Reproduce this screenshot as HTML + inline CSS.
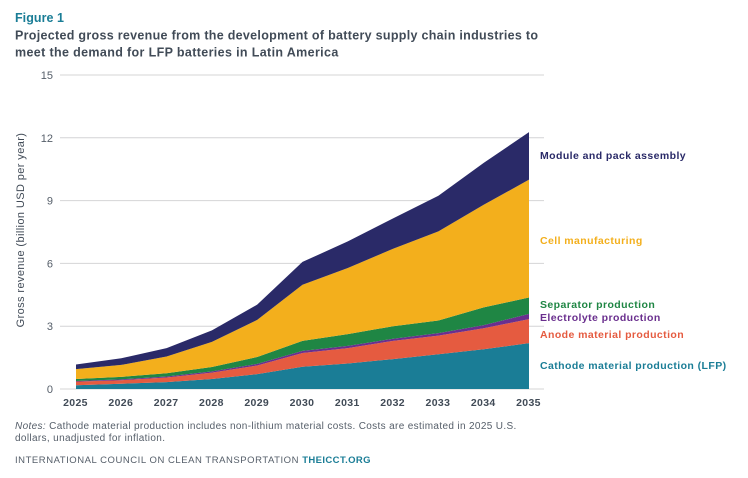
<!DOCTYPE html>
<html lang="en">
<head>
<meta charset="utf-8">
<title>Figure 1</title>
<style>
html,body{margin:0;padding:0;background:#fff;}
body{width:748px;height:478px;overflow:hidden;position:relative;font-family:"Liberation Sans",sans-serif;}
svg{position:absolute;left:0;top:0;}
text{font-family:"Liberation Sans",sans-serif;}
</style>
</head>
<body>
<svg id="chart" width="748" height="478" viewBox="0 0 748 478">
  <text x="15" y="22" font-size="12.5" font-weight="700" fill="#1a7d96" letter-spacing="0.05">Figure 1</text>
  <text x="15" y="39.5" font-size="12.5" font-weight="700" fill="#414b57" letter-spacing="0.3">Projected gross revenue from the development of battery supply chain industries to</text>
  <text x="15" y="56.5" font-size="12.5" font-weight="700" fill="#414b57" letter-spacing="0.36">meet the demand for LFP batteries in Latin America</text>
  <g id="grid"></g>
  <g id="areas"></g>
  <g id="yticks"></g>
  <g id="xticks"></g>
  <text transform="translate(24,230) rotate(-90)" text-anchor="middle" font-size="11" fill="#414b57" letter-spacing="0.4">Gross revenue (billion USD per year)</text>
  <g id="labels"></g>
  <text x="15" y="429" font-size="10" fill="#555e69" letter-spacing="0.35"><tspan font-style="italic">Notes:</tspan> Cathode material production includes non-lithium material costs. Costs are estimated in 2025 U.S.</text>
  <text x="15" y="441" font-size="10" fill="#555e69" letter-spacing="0.35">dollars, unadjusted for inflation.</text>
  <text x="15" y="463" font-size="9.5" fill="#555e69" letter-spacing="0.54">INTERNATIONAL COUNCIL ON CLEAN TRANSPORTATION <tspan font-weight="700" fill="#1a7d96" letter-spacing="0.4">THEICCT.ORG</tspan></text>
</svg>
<script>
const years = [2025,2026,2027,2028,2029,2030,2031,2032,2033,2034,2035];
const yTickValues = [0,3,6,9,12,15];
const cathode = [0.18,0.25,0.33,0.48,0.71,1.06,1.22,1.43,1.66,1.90,2.19];
const anode = [0.17,0.17,0.22,0.30,0.41,0.66,0.73,0.87,0.89,1.00,1.15];
const electrolyte = [0.03,0.04,0.05,0.06,0.08,0.10,0.11,0.10,0.12,0.15,0.25];
const separator = [0.10,0.12,0.15,0.21,0.33,0.48,0.56,0.60,0.60,0.85,0.78];
const cell = [0.47,0.57,0.80,1.20,1.77,2.68,3.16,3.70,4.26,4.90,5.63];
const moduleAssembly = [0.22,0.32,0.40,0.55,0.73,1.09,1.27,1.45,1.70,2.00,2.27];
const seriesNames = ["Cathode material production (LFP)","Anode material production","Electrolyte production","Separator production","Cell manufacturing","Module and pack assembly"];
const seriesKeys = ["cathode","anode","electrolyte","separator","cell","module-assembly"];
const seriesValues = [cathode,anode,electrolyte,separator,cell,moduleAssembly];
const seriesColors = ["#1a7d96","#e55b40","#6a2f8e","#1f8644","#f3af1c","#2a2a68"];
const labelY = [369,338,321,308,244,159];

const NS = "http://www.w3.org/2000/svg";
const xScale = function(year){ return 76 + (year - 2025) * (529 - 76) / 10; };
const yScale = function(value){ return 389 - value * (389 - 75) / 15; };

const gridG = document.getElementById("grid");
const yG = document.getElementById("yticks");
yTickValues.forEach(function(v){
  const l = document.createElementNS(NS,"line");
  l.setAttribute("x1",60);
  l.setAttribute("x2",544);
  l.setAttribute("y1",yScale(v));
  l.setAttribute("y2",yScale(v));
  l.setAttribute("stroke","#d4d4d6");
  l.setAttribute("stroke-width","1");
  
  
  gridG.appendChild(l);
  const t = document.createElementNS(NS,"text");
  t.setAttribute("x",53);
  t.setAttribute("y",yScale(v)+4);
  t.setAttribute("text-anchor","end");
  t.setAttribute("font-size","11");
  t.setAttribute("fill","#555e69");
  t.textContent = v;
  
  
  yG.appendChild(t);
});

const xG = document.getElementById("xticks");
years.forEach(function(y){
  const t = document.createElementNS(NS,"text");
  t.setAttribute("x",xScale(y)-0.5);
  t.setAttribute("y",406);
  t.setAttribute("text-anchor","middle");
  t.setAttribute("font-size","10.5");
  t.setAttribute("font-weight","700");
  t.setAttribute("letter-spacing","0.35");
  t.setAttribute("fill","#414b57");
  t.textContent = y;
  
  
  xG.appendChild(t);
});

const areaG = document.getElementById("areas");
let base = years.map(function(){ return 0; });
seriesValues.forEach(function(vals,i){
  const top = vals.map(function(v,j){ return base[j] + v; });
  const upper = years.map(function(y,j){ return xScale(y).toFixed(2)+","+yScale(top[j]).toFixed(2); });
  const lower = years.map(function(y,j){ return xScale(y).toFixed(2)+","+yScale(base[j]).toFixed(2); }).reverse();
  const p = document.createElementNS(NS,"polygon");
  p.setAttribute("points",upper.concat(lower).join(" "));
  p.setAttribute("fill",seriesColors[i]);
  
  
  areaG.appendChild(p);
  base = top;
});

const labelG = document.getElementById("labels");
seriesNames.forEach(function(n,i){
  const t = document.createElementNS(NS,"text");
  t.setAttribute("x",540);
  t.setAttribute("y",labelY[i]);
  t.setAttribute("font-size","10.5");
  t.setAttribute("font-weight","700");
  t.setAttribute("letter-spacing","0.42");
  t.setAttribute("fill",seriesColors[i]);
  t.textContent = n;
  
  
  labelG.appendChild(t);
});
</script>
</body>
</html>
